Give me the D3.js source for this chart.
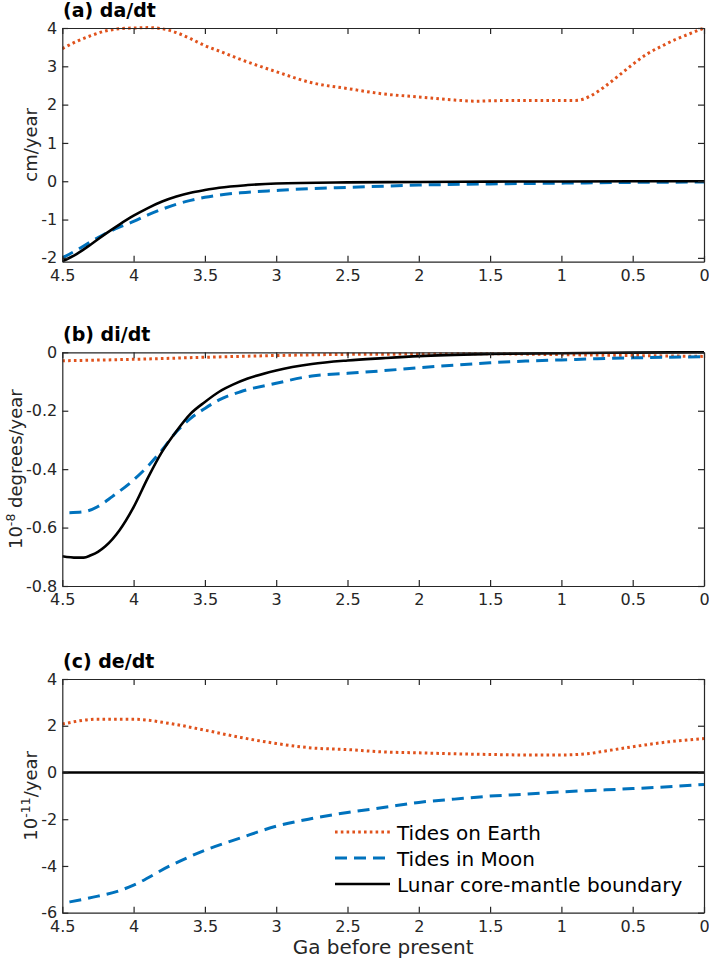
<!DOCTYPE html>
<html><head><meta charset="utf-8">
<script src="https://cdn.jsdelivr.net/npm/d3@7"></script>
<style>
html,body{margin:0;padding:0;background:#fff;}
text{font-family:"DejaVu Sans",sans-serif;}
</style></head>
<body><svg id="chart" width="709" height="958"></svg>
<script>
// ---------- DATA ----------
const xTicks = [4.5, 4, 3.5, 3, 2.5, 2, 1.5, 1, 0.5, 0];
const xTickLabels = ["4.5","4","3.5","3","2.5","2","1.5","1","0.5","0"];
const seriesNames = ["Tides on Earth", "Tides in Moon", "Lunar core-mantle boundary"];

// (a) da/dt  [Ga, cm/year]
const daEarth = [[4.5,3.46],[4.4,3.65],[4.3,3.8],[4.2,3.92],[4.1,3.98],[4.0,4.0],[3.9,4.01],[3.8,3.98],[3.7,3.88],[3.6,3.72],[3.5,3.54],[3.4,3.4],[3.25,3.18],[3.0,2.86],[2.75,2.57],[2.5,2.42],[2.25,2.28],[2.0,2.2],[1.75,2.12],[1.6,2.09],[1.5,2.1],[1.25,2.11],[1.0,2.11],[0.9,2.11],[0.85,2.14],[0.8,2.22],[0.7,2.46],[0.6,2.75],[0.5,3.05],[0.4,3.32],[0.3,3.52],[0.2,3.7],[0.1,3.85],[0.0,4.0]];
const daMoon = [[4.5,-2.0],[4.4,-1.8],[4.3,-1.58],[4.2,-1.37],[4.1,-1.2],[4.0,-1.05],[3.9,-0.88],[3.8,-0.73],[3.7,-0.6],[3.6,-0.5],[3.5,-0.42],[3.4,-0.36],[3.25,-0.3],[3.0,-0.24],[2.75,-0.19],[2.5,-0.16],[2.0,-0.1],[1.5,-0.07],[1.0,-0.05],[0.5,-0.03],[0.0,-0.02]];
const daCMB = [[4.5,-2.09],[4.4,-1.9],[4.3,-1.65],[4.2,-1.38],[4.1,-1.13],[4.0,-0.9],[3.9,-0.7],[3.8,-0.53],[3.7,-0.4],[3.6,-0.3],[3.5,-0.23],[3.4,-0.17],[3.2,-0.1],[3.0,-0.06],[2.5,-0.03],[2.0,-0.02],[1.5,-0.01],[1.0,-0.005],[0.0,0.0]];

// (b) di/dt  [Ga, 1e-8 degrees/year]
const diEarth = [[4.5,-0.029],[4.0,-0.024],[3.5,-0.017],[3.0,-0.011],[2.5,-0.007],[2.0,-0.006],[1.5,-0.005],[1.0,-0.008],[0.5,-0.011],[0.0,-0.014]];
const diMoon = [[4.45,-0.549],[4.35,-0.546],[4.25,-0.528],[4.15,-0.494],[4.0,-0.437],[3.9,-0.39],[3.8,-0.334],[3.7,-0.272],[3.6,-0.226],[3.5,-0.192],[3.4,-0.163],[3.25,-0.135],[3.0,-0.106],[2.75,-0.081],[2.5,-0.072],[2.25,-0.063],[2.0,-0.053],[1.75,-0.044],[1.5,-0.036],[1.25,-0.03],[1.0,-0.026],[0.75,-0.022],[0.5,-0.019],[0.25,-0.017],[0.0,-0.015]];
const diCMB = [[4.5,-0.698],[4.4,-0.703],[4.35,-0.703],[4.3,-0.695],[4.25,-0.683],[4.2,-0.665],[4.1,-0.61],[4.0,-0.53],[3.9,-0.43],[3.8,-0.34],[3.7,-0.27],[3.6,-0.21],[3.5,-0.17],[3.4,-0.135],[3.3,-0.11],[3.2,-0.09],[3.0,-0.062],[2.75,-0.04],[2.5,-0.028],[2.25,-0.02],[2.0,-0.013],[1.5,-0.006],[1.0,-0.003],[0.5,-0.001],[0.0,0.0]];

// (c) de/dt  [Ga, 1e-11/year]
const deEarth = [[4.5,2.07],[4.25,2.28],[4.0,2.28],[3.75,2.1],[3.5,1.81],[3.25,1.5],[3.0,1.24],[2.75,1.05],[2.5,0.98],[2.25,0.88],[2.0,0.84],[1.75,0.8],[1.5,0.77],[1.25,0.75],[1.0,0.75],[0.8,0.81],[0.75,0.86],[0.5,1.1],[0.25,1.31],[0.0,1.45]];
const deMoon = [[4.45,-5.54],[4.25,-5.29],[4.1,-5.06],[4.0,-4.82],[3.75,-4.01],[3.5,-3.33],[3.25,-2.8],[3.0,-2.3],[2.75,-1.97],[2.5,-1.71],[2.25,-1.5],[2.0,-1.28],[1.75,-1.14],[1.5,-1.01],[1.25,-0.93],[1.0,-0.83],[0.75,-0.76],[0.5,-0.69],[0.25,-0.61],[0.0,-0.51]];
const deCMB = [[4.5,0],[0.0,0]];

const daTicks = [-2,-1,0,1,2,3,4];
const diTicks = [-0.8,-0.6,-0.4,-0.2,0];
const diTickLabels = ["-0.8","-0.6","-0.4","-0.2","0"];
const deTicks = [-6,-4,-2,0,2,4];

// ---------- LAYOUT / STYLE ----------
const svg = d3.select("#chart");
const left = 62.3, right = 704;
const axisColor = "#262626";
const styles = [
  {color:"#e0521c", width:3, dash:"2.6,3.2", cap:"butt"},
  {color:"#0072bd", width:3, dash:"12,7", cap:"butt"},
  {color:"#000000", width:2.6, dash:null, cap:"butt"}
];
const x = d3.scaleLinear().domain([4.5, 0]).range([left, right]);

const panels = [
  {top:28, bottom:261.7, domain:[-2.1,4], ticks:daTicks, labels:daTicks.map(String),
   title:"(a) da/dt", ylab:[["cm/year",false]], ylabX:37, series:[daEarth,daMoon,daCMB]},
  {top:352.3, bottom:586, domain:[-0.8,0], ticks:diTicks, labels:diTickLabels,
   title:"(b) di/dt", ylab:[["10",false],["-8",true],[" degrees/year",false]], ylabX:21.5, series:[diEarth,diMoon,diCMB]},
  {top:679, bottom:912.7, domain:[-6,4], ticks:deTicks, labels:deTicks.map(String),
   title:"(c) de/dt", ylab:[["10",false],["-11",true],["/year",false]], ylabX:37, series:[deEarth,deMoon,deCMB]}
];

panels.forEach((p, pi) => {
  const y = d3.scaleLinear().domain(p.domain).range([p.bottom, p.top]);
  const g = svg.append("g");
  const clipId = "clip" + pi;
  svg.append("clipPath").attr("id", clipId).append("rect")
    .attr("x", left).attr("y", p.top - 2).attr("width", right - left).attr("height", p.bottom - p.top + 4);

  // series
  const line = d3.line().x(d => x(d[0])).y(d => y(d[1])).curve(d3.curveMonotoneX);
  const sg = g.append("g").attr("clip-path", `url(#${clipId})`);
  p.series.forEach((s, i) => {
    const st = styles[i];
    sg.append("path").datum(s).attr("d", line)
      .attr("fill", "none").attr("stroke", st.color).attr("stroke-width", st.width)
      .attr("stroke-dasharray", st.dash).attr("stroke-linecap", st.cap).attr("stroke-linejoin","round");
  });

  // axes
  const fmtX = (d) => xTickLabels[xTicks.indexOf(d)];
  const fmtY = (d) => p.labels[p.ticks.indexOf(d)];
  const gb = g.append("g").attr("transform", `translate(0,${p.bottom})`)
    .call(d3.axisBottom(x).tickValues(xTicks).tickFormat(fmtX).tickSizeInner(-6).tickSizeOuter(0).tickPadding(8));
  const gt = g.append("g").attr("transform", `translate(0,${p.top})`)
    .call(d3.axisTop(x).tickValues(xTicks).tickFormat("").tickSizeInner(-6).tickSizeOuter(0));
  const gl = g.append("g").attr("transform", `translate(${left},0)`)
    .call(d3.axisLeft(y).tickValues(p.ticks).tickFormat(fmtY).tickSizeInner(-6).tickSizeOuter(0).tickPadding(5));
  const gr = g.append("g").attr("transform", `translate(${right},0)`)
    .call(d3.axisRight(y).tickValues(p.ticks).tickFormat("").tickSizeInner(-6).tickSizeOuter(0));
  [gb, gt, gl, gr].forEach(a => {
    a.selectAll("path.domain").attr("stroke", axisColor).attr("stroke-width", 1.2);
    a.selectAll(".tick line").attr("stroke", axisColor).attr("stroke-width", 1.2);
    a.selectAll(".tick text").attr("fill", axisColor).style("font-size", "16px").style("font-family", "DejaVu Sans");
  });

  // title
  g.append("text").attr("x", 63).attr("y", p.top - 11.5)
    .style("font-size", "19px").style("font-weight", "bold").attr("fill", "#000").text(p.title);

  // y label
  const yl = g.append("text")
    .attr("transform", `translate(${p.ylabX},${(p.top + p.bottom) / 2}) rotate(-90)`)
    .attr("text-anchor", "middle").style("font-size", "18px").attr("fill", axisColor);
  p.ylab.forEach(([t, sup], k) => {
    const ts = yl.append("tspan").text(t);
    if (sup) ts.style("font-size", "12.5px").attr("dy", "-7");
    else if (k > 0 && p.ylab[k - 1][1]) ts.attr("dy", "7");
  });
});

// x axis label
svg.append("text").attr("x", (left + right) / 2).attr("y", 954)
  .attr("text-anchor", "middle").style("font-size", "20px").attr("fill", axisColor)
  .text("Ga before present");

// legend
const legRows = [832, 858, 884];
seriesNames.forEach((name, i) => {
  const st = styles[i];
  svg.append("line").attr("x1", 335).attr("x2", 390).attr("y1", legRows[i]).attr("y2", legRows[i])
    .attr("stroke", st.color).attr("stroke-width", st.width).attr("stroke-dasharray", st.dash);
  svg.append("text").attr("x", 397).attr("y", legRows[i] + 7.5)
    .style("font-size", "20px").attr("fill", "#000").text(name);
});
</script></body></html>
